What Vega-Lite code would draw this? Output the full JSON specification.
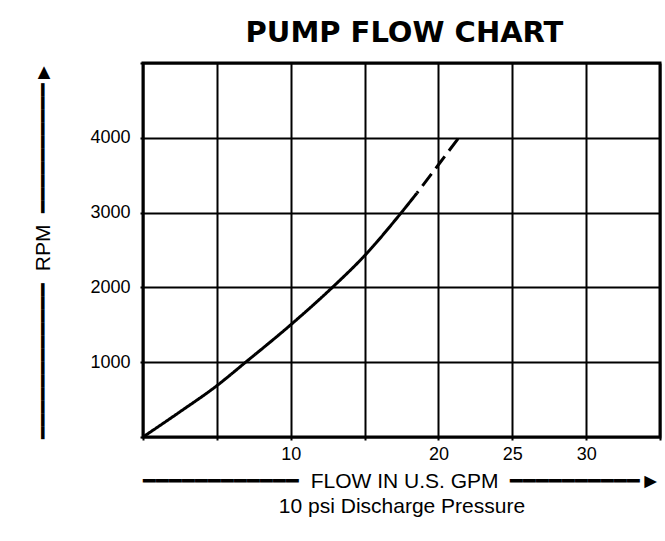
{
  "$schema": "https://vega.github.io/schema/vega-lite/v6.json",
  "width": 517,
  "height": 374,
  "autosize": {"type": "none"},
  "padding": {"left": 143, "top": 63, "right": 5, "bottom": 104},
  "background": "white",
  "title": {
    "text": "PUMP FLOW CHART",
    "font": "DejaVu Sans",
    "fontWeight": "bold",
    "fontSize": 29,
    "anchor": "middle",
    "frame": "group",
    "baseline": "alphabetic",
    "offset": -17,
    "dx": 3,
    "color": "black"
  },
  "data": {
    "values": [
      {"gpm": 0, "rpm": 0, "segment": "solid"},
      {"gpm": 2.48, "rpm": 334, "segment": "solid"},
      {"gpm": 5, "rpm": 686, "segment": "solid"},
      {"gpm": 6.95, "rpm": 1000, "segment": "solid"},
      {"gpm": 10, "rpm": 1500, "segment": "solid"},
      {"gpm": 12.82, "rpm": 2000, "segment": "solid"},
      {"gpm": 15, "rpm": 2424, "segment": "solid"},
      {"gpm": 17.49, "rpm": 3000, "segment": "solid"},
      {"gpm": 18.55, "rpm": 3262, "segment": "solid"},
      {"gpm": 18.55, "rpm": 3262, "segment": "dashed"},
      {"gpm": 20, "rpm": 3640, "segment": "dashed"},
      {"gpm": 21.37, "rpm": 4000, "segment": "dashed"}
    ]
  },
  "mark": {"type": "line", "interpolate": "monotone", "strokeWidth": 3, "color": "black", "strokeCap": "butt", "strokeDashOffset": 13},
  "encoding": {
    "x": {
      "field": "gpm",
      "type": "quantitative",
      "scale": {"domain": [0, 35], "nice": false},
      "axis": {
        "values": [0, 5, 10, 15, 20, 25, 30, 35],
        "labelExpr": "indexof([10,20,25,30], datum.value) >= 0 ? datum.label : ''",
        "labelOverlap": false,
        "labelFlush": false,
        "labelPadding": 5,
        "title": ["━━━━━━━━━━━━\u00a0\u00a0FLOW IN U.S. GPM\u00a0\u00a0━━━━━━━━━━►", "10 psi Discharge Pressure"],
        "titlePadding": 7,
        "titleLineHeight": 25
      }
    },
    "y": {
      "field": "rpm",
      "type": "quantitative",
      "scale": {"domain": [0, 5000], "nice": false},
      "axis": {
        "values": [0, 1000, 2000, 3000, 4000, 5000],
        "format": "d",
        "labelExpr": "datum.value > 0 && datum.value < 5000 ? datum.label : ''",
        "labelOverlap": false,
        "labelFlush": false,
        "labelPadding": 10,
        "title": "━━━━━━━━━━━━\u00a0\u00a0RPM\u00a0\u00a0━━━━━━━━━━►",
        "titlePadding": 36
      }
    },
    "strokeDash": {
      "field": "segment",
      "type": "nominal",
      "scale": {"domain": ["solid", "dashed"], "range": [[1, 0], [15, 7]]},
      "legend": null
    }
  },
  "config": {
    "view": {"stroke": "black", "strokeWidth": 3},
    "axis": {
      "domain": false,
      "grid": true,
      "gridColor": "black",
      "gridWidth": 2,
      "gridOpacity": 1,
      "ticks": true,
      "tickColor": "black",
      "tickSize": 3,
      "tickWidth": 2,
      "labelFont": "Liberation Sans",
      "labelFontSize": 18,
      "labelColor": "black",
      "titleFont": "Liberation Sans",
      "titleFontSize": 21,
      "titleFontWeight": "normal",
      "titleColor": "black"
    }
  }
}
